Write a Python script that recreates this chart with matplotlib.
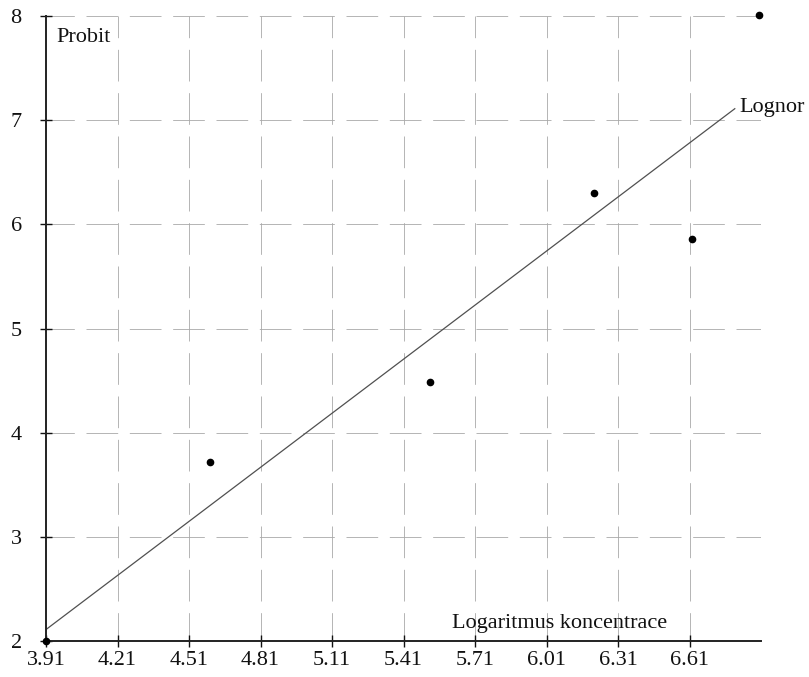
import matplotlib
matplotlib.use("Agg")
import matplotlib.pyplot as plt

# Data
x_points = [3.91, 4.60, 5.52, 6.21, 6.62, 6.90]
y_points = [2.00, 3.72, 4.49, 6.30, 5.86, 8.01]
fit_x = [3.91, 6.80]
fit_y = [2.11, 7.11]
x_ticks = [3.91, 4.21, 4.51, 4.81, 5.11, 5.41, 5.71, 6.01, 6.31, 6.61]
x_tick_labels = ["3.91", "4.21", "4.51", "4.81", "5.11", "5.41", "5.71", "6.01", "6.31", "6.61"]
y_ticks = [2, 3, 4, 5, 6, 7, 8]
x_range = [3.91, 6.91]
y_range = [2, 8]

plt.rcParams['font.family'] = ['Liberation Serif', 'DejaVu Serif']

fig = plt.figure(figsize=(8.09, 6.77), dpi=100)
ax = fig.add_axes([46/809, 36/677, (761-46)/809, (641-16)/677])
ax.set_xlim(*x_range)
ax.set_ylim(*y_range)

grid_style = dict(color="#a8a8a8", lw=0.6, linestyle=(4, (38, 14)), zorder=1)
for xv in x_ticks[1:]:
    ax.plot([xv, xv], y_range, **grid_style)
for yv in y_ticks[1:]:
    ax.plot(x_range, [yv, yv], **grid_style)

ax.plot(fit_x, fit_y, color="#505050", lw=0.9, zorder=2)
ax.plot(x_points, y_points, 'o', color="black", markersize=4.5, zorder=3, clip_on=False)

for side in ["top", "right"]:
    ax.spines[side].set_visible(False)
for side in ["left", "bottom"]:
    ax.spines[side].set_linewidth(1.4)
    ax.spines[side].set_color("#222222")

ax.set_xticks(x_ticks)
ax.set_xticklabels(x_tick_labels)
ax.set_yticks(y_ticks)
ax.tick_params(axis="both", direction="inout", length=9, width=1.0, labelsize=16, colors="#111111")
ax.tick_params(axis="y", pad=13)
ax.tick_params(axis="x", pad=3)

ax.text(3.955, 7.79, "Probit", fontsize=16, color="#111111", ha="left", va="center")
ax.text(6.82, 7.12, "Lognor", fontsize=16, color="#111111", ha="left", va="center")
ax.text(5.615, 2.17, "Logaritmus koncentrace", fontsize=16, color="#111111", ha="left", va="center")

fig.savefig("out.png", dpi=100)
